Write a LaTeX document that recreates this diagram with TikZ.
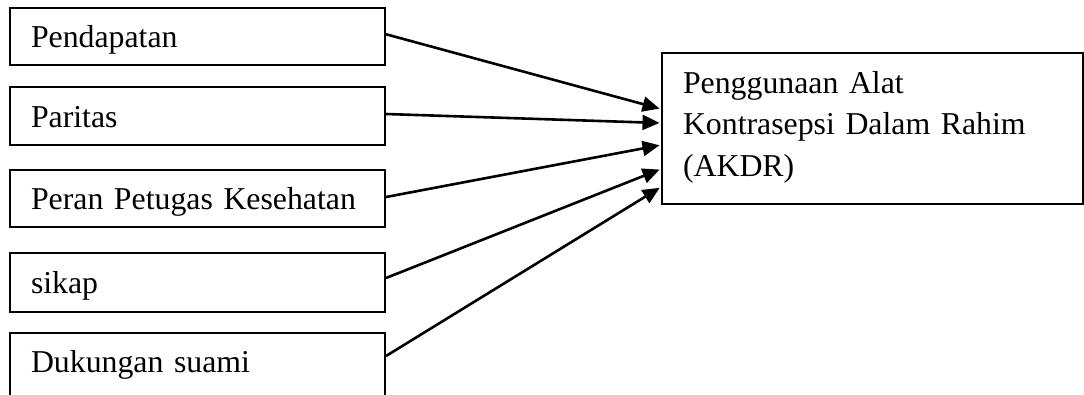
\documentclass[tikz,border=0pt]{standalone}
\usepackage{fontspec}
\setmainfont{Liberation Serif}
\usetikzlibrary{arrows.meta}
\begin{document}
\begin{tikzpicture}[x=1pt,y=-1pt,
  leftbox/.style={draw, line width=2pt, minimum width=375pt, inner xsep=21pt, inner ysep=0pt,
    text width=333pt, align=left, text height=22pt, text depth=0pt,
    font=\fontsize{31.8}{41.5}\selectfont},
  rightbox/.style={draw, line width=2pt, minimum width=421pt, minimum height=151pt, inner xsep=21pt, inner ysep=0pt,
    text width=379pt, align=left, text height=22pt, text depth=93pt,
    font=\fontsize{31.8}{41.5}\selectfont},
  conn/.style={line width=2.6pt, -{Triangle[length=17pt,width=15pt]}, shorten >=1.5pt}]
\useasboundingbox (0,0) rectangle (1084,394);
\clip (0,0) rectangle (1084,394);
\fill[white] (0,0) rectangle (1084,394);
\node[leftbox, minimum height=57.5pt] (b1) at (197.5,36.25) {Pendapatan};
\node[leftbox, minimum height=58pt] (b2) at (197.5,116) {Paritas};
\node[leftbox, minimum height=57pt] (b3) at (197.5,198.5) {Peran Petugas Kesehatan};
\node[leftbox, minimum height=59pt] (b4) at (197.5,282.5) {sikap};
\node[leftbox, minimum height=67pt, text depth=11pt] (b5) at (197.5,366.5) {Dukungan suami};
\node[rightbox] (r) at (872.5,128.5) {Penggunaan Alat\\Kontrasepsi Dalam Rahim\\(AKDR)};
\draw[conn] ([yshift=2pt]b1.east) -- ([yshift=19.5pt]r.west);
\draw[conn] ([yshift=2pt]b2.east) -- ([yshift=5.5pt]r.west);
\draw[conn] ([yshift=1.5pt]b3.east) -- ([yshift=-16.5pt]r.west);
\draw[conn] ([yshift=4.5pt]b4.east) -- ([yshift=-40.5pt]r.west);
\draw[conn] ([yshift=10.5pt]b5.east) -- ([yshift=-58.5pt]r.west);
\end{tikzpicture}
\end{document}
